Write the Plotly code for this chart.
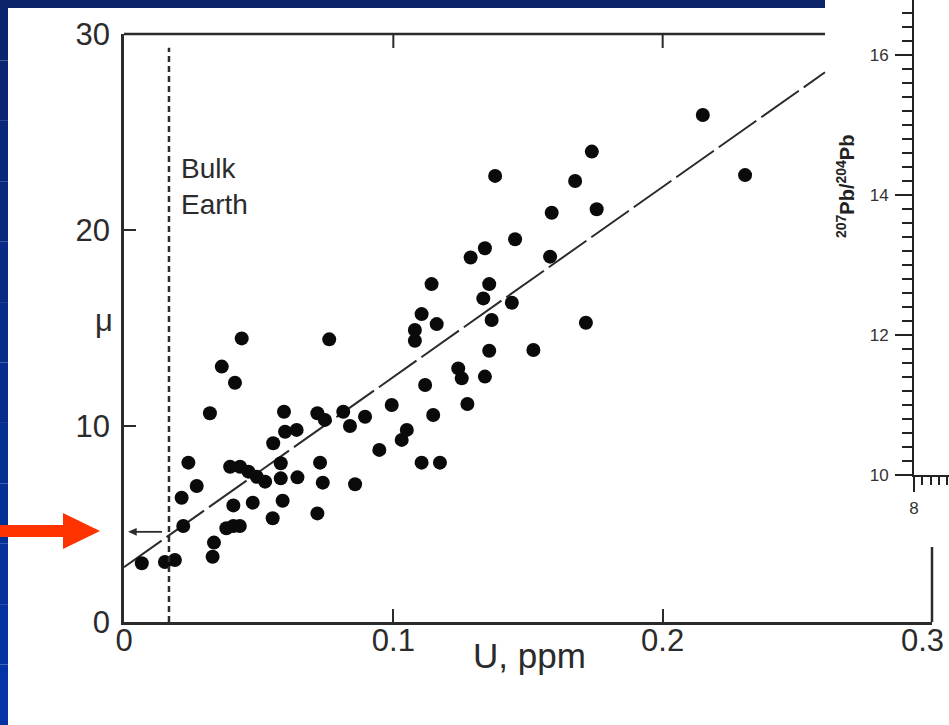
import plotly.graph_objects as go

# ---------------- data ----------------
U_PPM = [0.0066, 0.0152, 0.0189, 0.0329, 0.0334, 0.0380, 0.0406, 0.0430, 0.0406, 0.0478,
         0.0552, 0.0589, 0.0718, 0.0858, 0.0738, 0.0728, 0.0644, 0.0582, 0.0582, 0.0524,
         0.0493, 0.0462, 0.0431, 0.0394, 0.0270, 0.0214, 0.0239, 0.0220, 0.0319, 0.0594,
         0.0554, 0.0598, 0.0641, 0.0718, 0.0746, 0.0814, 0.0839, 0.0895, 0.0948, 0.0994,
         0.1031, 0.1050, 0.0437, 0.0762, 0.0363, 0.0412, 0.1378, 0.1675, 0.1737, 0.1755,
         0.1588, 0.1452, 0.1340, 0.1287, 0.1582, 0.1142, 0.1356, 0.1334, 0.1440, 0.1365,
         0.1105, 0.1080, 0.1161, 0.1080, 0.1715, 0.1520, 0.1356, 0.1241, 0.1254, 0.1340,
         0.1118, 0.1148, 0.1275, 0.1105, 0.1173, 0.2149, 0.2306]
MU = [3.00, 3.06, 3.16, 3.33, 4.05, 4.78, 4.90, 4.90, 5.95, 6.09,
      5.29, 6.19, 5.54, 7.03, 7.11, 8.13, 7.38, 7.33, 8.10, 7.16,
      7.41, 7.67, 7.92, 7.92, 6.94, 6.34, 8.13, 4.90, 10.65, 10.73,
      9.12, 9.71, 9.80, 10.65, 10.31, 10.73, 10.00, 10.47, 8.78, 11.07,
      9.29, 9.80, 14.47, 14.42, 13.03, 12.21, 22.76, 22.50, 24.00, 21.06,
      20.88, 19.53, 19.07, 18.60, 18.64, 17.24, 17.24, 16.51, 16.29, 15.41,
      15.71, 14.90, 15.20, 14.35, 15.27, 13.88, 13.84, 12.94, 12.43, 12.52,
      12.09, 10.56, 11.12, 8.13, 8.13, 25.87, 22.80]

FIT_INTERCEPT = 2.8
FIT_SLOPE = 97.0
BULK_EARTH_U = 0.0167
ARROW_MU = 4.6
ARROW_FROM_U = 0.0141
ARROW_TO_U = 0.0015

X_TICKS = [0, 0.1, 0.2, 0.3]
X_TICK_TEXT = ["0", "0.1", "0.2", "0.3"]
Y_TICKS = [0, 10, 20, 30]
Y_TICK_TEXT = ["0", "10", "20", "30"]

INSET_Y_RANGE = [10, 16.786]
INSET_X_RANGE = [8, 8.84]

# ---------------- layout geometry (pixels) ----------------
W, H = 949, 725
PX_L, PX_R = 124, 932      # main plot area
PY_T, PY_B = 34, 622
INSET_LEFT = 825           # left edge of the overlaid inset picture
INSET_BOTTOM = 547
INSET_AX_X = 914
INSET_AX_Y = 475

def px(x):
    return x / W

def py(y):
    return 1 - y / H

X_DOM = [px(PX_L), px(PX_R)]
Y_DOM = [py(PY_B), py(PY_T)]

INK = "#2b2b2b"
FONT = "Liberation Sans, Arial, sans-serif"

fig = go.Figure()

# regression line stops where the inset picture covers it
u_cut = (px(INSET_LEFT) - X_DOM[0]) / (X_DOM[1] - X_DOM[0]) * 0.3
fit_x = [0.0, u_cut]
fit_y = [FIT_INTERCEPT + FIT_SLOPE * u for u in fit_x]
fig.add_trace(go.Scatter(x=fit_x, y=fit_y, mode="lines",
                         line=dict(color=INK, width=2, dash="46px,6px"),
                         hoverinfo="skip", xaxis="x", yaxis="y"))

fig.add_trace(go.Scatter(x=U_PPM, y=MU, mode="markers",
                         marker=dict(color="#0a0a0a", size=14, line=dict(width=0)),
                         xaxis="x", yaxis="y"))

# invisible trace for the inset axes
fig.add_trace(go.Scatter(x=[INSET_X_RANGE[0]], y=[INSET_Y_RANGE[0]], mode="markers",
                         marker=dict(size=1, color="rgba(0,0,0,0)"),
                         xaxis="x2", yaxis="y2", hoverinfo="skip"))

shapes = []
# blue slide background strips (left strip as a vertical gradient)
n_bands = 12
c_top = (11, 36, 110)
c_bot = (2, 52, 165)
for i in range(n_bands):
    t = i / (n_bands - 1)
    c = tuple(int(round(c_top[k] + (c_bot[k] - c_top[k]) * t)) for k in range(3))
    shapes.append(dict(type="rect", xref="paper", yref="paper",
                       x0=0, x1=px(8), y0=py(H * (i + 1) / n_bands), y1=py(H * i / n_bands),
                       fillcolor="rgb(%d,%d,%d)" % c, line=dict(width=0), layer="below"))
shapes.append(dict(type="rect", xref="paper", yref="paper",
                   x0=0, x1=px(INSET_LEFT), y0=py(8), y1=1,
                   fillcolor="rgb(11,36,106)", line=dict(width=0), layer="below"))

# main frame: top and right borders (partly hidden behind inset)
shapes.append(dict(type="line", xref="paper", yref="paper",
                   x0=X_DOM[0], x1=px(INSET_LEFT), y0=Y_DOM[1], y1=Y_DOM[1],
                   line=dict(color=INK, width=2.5)))
shapes.append(dict(type="line", xref="paper", yref="paper",
                   x0=X_DOM[1], x1=X_DOM[1], y0=Y_DOM[0], y1=py(INSET_BOTTOM),
                   line=dict(color=INK, width=2.5)))
# top mirror ticks
for xv in [0.1, 0.2]:
    shapes.append(dict(type="line", xref="x", yref="paper",
                       x0=xv, x1=xv, y0=Y_DOM[1], y1=Y_DOM[1] - 14 / H,
                       line=dict(color=INK, width=2)))
# Bulk Earth dashed line
shapes.append(dict(type="line", xref="x", yref="y",
                   x0=BULK_EARTH_U, x1=BULK_EARTH_U, y0=0, y1=29.3,
                   line=dict(color=INK, width=2.5, dash="6px,4px")))

# small leftward arrow at the Bulk Earth intercept (line + head)
shapes.append(dict(type="line", xref="x", yref="y",
                   x0=ARROW_FROM_U, x1=ARROW_TO_U + 0.002, y0=ARROW_MU, y1=ARROW_MU,
                   line=dict(color=INK, width=1.8)))
shapes.append(dict(type="path", xref="x", yref="y",
                   path="M {a} {m} L {b} {u} L {b} {d} Z".format(
                       a=ARROW_TO_U, b=ARROW_TO_U + 0.0032, m=ARROW_MU,
                       u=ARROW_MU + 0.2, d=ARROW_MU - 0.2),
                   fillcolor=INK, line=dict(width=0)))

# red pointer arrow on the slide
shapes.append(dict(type="path", xref="paper", yref="paper",
                   path="M 0 {a} L {b} {a} L {b} {c} L {d} {e} L {b} {f} L {b} {g} L 0 {g} Z".format(
                       a=py(525), b=px(63), c=py(513), d=px(100), e=py(531), f=py(549), g=py(537)),
                   fillcolor="#ff3300", line=dict(width=0)))

annotations = [
    dict(x=px(179), y=py(186), xref="paper", yref="paper", text="Bulk<br>Earth",
         showarrow=False, xanchor="left", yanchor="middle", align="left",
         font=dict(family=FONT, size=28, color=INK)),
    dict(x=px(104), y=py(320), xref="paper", yref="paper", text="μ",
         showarrow=False, xanchor="center", yanchor="middle",
         font=dict(family=FONT, size=31, color=INK)),
    dict(x=px(529), y=py(655), xref="paper", yref="paper", text="U, ppm",
         showarrow=False, xanchor="center", yanchor="middle",
         font=dict(family=FONT, size=35, color=INK)),
    # last x tick label sits at the page edge: drawn as its own text, nudged inside
    dict(x=px(946), y=py(640), xref="paper", yref="paper", text=X_TICK_TEXT[-1],
         showarrow=False, xanchor="right", yanchor="middle",
         font=dict(family=FONT, size=31, color=INK)),
    dict(x=px(846), y=py(187), xref="paper", yref="paper",
         text="<b><sup>207</sup>Pb/<sup>204</sup>Pb</b>", textangle=-90,
         showarrow=False, xanchor="center", yanchor="middle",
         font=dict(family=FONT, size=20, color="#222")),
]

common = dict(showgrid=False, zeroline=False, automargin=False)

fig.update_layout(
    width=W, height=H, autosize=False, margin=dict(l=0, r=0, t=0, b=0, pad=0),
    paper_bgcolor="white", plot_bgcolor="rgba(0,0,0,0)", showlegend=False,
    shapes=shapes, annotations=annotations,
    xaxis=dict(domain=X_DOM, range=[0, 0.3], tickmode="array", tickvals=X_TICKS,
               ticktext=X_TICK_TEXT[:-1] + [" "], ticks="inside", ticklen=13, tickwidth=2,
               tickcolor=INK, showline=True, linewidth=2.5, linecolor=INK,
               ticklabelstandoff=-11, ticklabeloverflow="allow", anchor="y",
               tickfont=dict(family=FONT, size=31, color=INK), **common),
    yaxis=dict(domain=Y_DOM, range=[0, 30], tickmode="array", tickvals=Y_TICKS,
               ticktext=Y_TICK_TEXT, ticks="inside", ticklen=12, tickwidth=2,
               tickcolor=INK, showline=True, linewidth=2.5, linecolor=INK,
               ticklabelstandoff=5, ticklabeloverflow="allow", anchor="x",
               tickfont=dict(family=FONT, size=31, color=INK), **common),
    xaxis2=dict(domain=[px(INSET_AX_X), 1], range=INSET_X_RANGE, anchor="y2",
                tick0=8, dtick=2, ticks="outside", ticklen=15, tickwidth=2,
                tickcolor="#222", showline=True, linewidth=2, linecolor="#222",
                ticklabelstandoff=2,
                tickfont=dict(family=FONT, size=17, color="#333"),
                minor=dict(tick0=8, dtick=0.2, ticks="outside", ticklen=8,
                           tickwidth=1.5, tickcolor="#222"), **common),
    yaxis2=dict(domain=[py(INSET_AX_Y), 1], range=INSET_Y_RANGE, anchor="x2",
                tick0=10, dtick=2, ticks="outside", ticklen=17, tickwidth=2,
                tickcolor="#222", showline=True, linewidth=2, linecolor="#222",
                ticklabelstandoff=3,
                tickfont=dict(family=FONT, size=17, color="#333"),
                minor=dict(tick0=10, dtick=0.2, ticks="outside", ticklen=10,
                           tickwidth=1.5, tickcolor="#222"), **common),
)

fig.write_html("out.html", config={"displayModeBar": False})
